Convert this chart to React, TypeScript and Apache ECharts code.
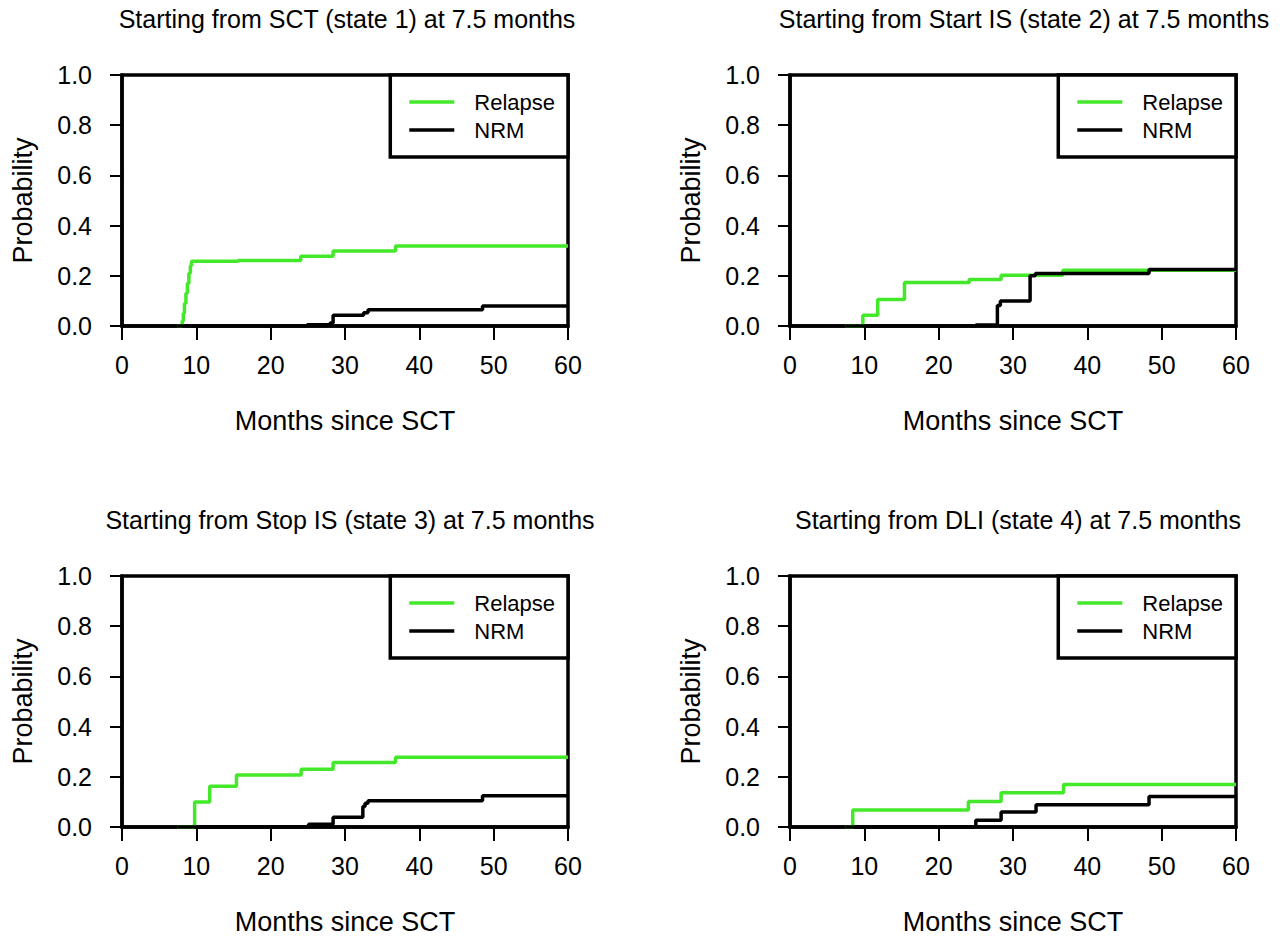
import React, { useEffect, useRef } from "react";
import * as echarts from "echarts";

const FONT = "'Liberation Sans', Arial, Helvetica, sans-serif";
const GREEN = "#44e82a";

const panelTitles = [
  "Starting from SCT (state 1) at 7.5 months",
  "Starting from Start IS (state 2) at 7.5 months",
  "Starting from Stop IS (state 3) at 7.5 months",
  "Starting from DLI (state 4) at 7.5 months",
];
const seriesNames = ["Relapse", "NRM"];
const xTicks = { min: 0, max: 60, interval: 10 };
const yTicks = { min: 0, max: 1, interval: 0.2 };
const xAxisName = "Months since SCT";
const yAxisName = "Probability";

// [months, probability] step points
const relapse1 = [
  [7.5, 0], [8.1, 0.02], [8.25, 0.05], [8.4, 0.09], [8.6, 0.13], [8.8, 0.17],
  [9.0, 0.21], [9.2, 0.24], [9.35, 0.258], [15.6, 0.261], [24.05, 0.278],
  [28.4, 0.299], [36.8, 0.319], [60, 0.319],
];
const nrm1 = [
  [7.5, 0], [24.9, 0.005], [28.0, 0.012], [28.4, 0.043], [32.5, 0.053],
  [33.1, 0.065], [48.5, 0.08], [60, 0.08],
];
const relapse2 = [
  [7.5, 0], [9.8, 0.043], [11.8, 0.106], [15.4, 0.173], [24.1, 0.185],
  [28.4, 0.202], [36.7, 0.222], [60, 0.222],
];
const nrm2 = [
  [7.5, 0], [25.0, 0.004], [27.9, 0.082], [28.3, 0.1], [32.3, 0.2],
  [33.0, 0.209], [48.3, 0.225], [60, 0.225],
];
const relapse3 = [
  [7.5, 0], [9.77, 0.1], [11.8, 0.162], [15.4, 0.207], [24.1, 0.23],
  [28.4, 0.257], [36.8, 0.278], [60, 0.278],
];
const nrm3 = [
  [7.5, 0], [25.1, 0.011], [28.4, 0.039], [32.4, 0.082], [32.7, 0.095],
  [33.1, 0.105], [48.5, 0.125], [60, 0.125],
];
const relapse4 = [
  [7.5, 0], [8.44, 0.068], [24.0, 0.102], [28.4, 0.136], [36.8, 0.169], [60, 0.169],
];
const nrm4 = [
  [7.5, 0], [25.0, 0.027], [28.4, 0.06], [33.1, 0.089], [48.3, 0.122], [60, 0.122],
];

const relapseData = [relapse1, relapse2, relapse3, relapse4];
const nrmData = [nrm1, nrm2, nrm3, nrm4];

// layout (pixels)
const W = 1280;
const H = 948;
const gridLefts = [122, 790, 122, 790];
const gridTops = [75, 75, 576, 576];
const titleCenters = [347, 1024, 350, 1018];
const GRID_W = 446;
const GRID_H = 251;

export default function App() {
  const ref = useRef<HTMLDivElement>(null);
  useEffect(() => {
    if (!ref.current) return;
    const chart = echarts.init(ref.current, null, { renderer: "svg", width: W, height: H });
    const grids: any[] = [];
    const xAxes: any[] = [];
    const yAxes: any[] = [];
    const series: any[] = [];
    const titles: any[] = [];
    const legends: any[] = [];
    for (let i = 0; i < 4; i++) {
      grids.push({
        left: gridLefts[i],
        top: gridTops[i],
        width: GRID_W,
        height: GRID_H,
        show: true,
        borderColor: "#000",
        borderWidth: 3.5,
        backgroundColor: "transparent",
        containLabel: false,
      });
      xAxes.push({
        gridIndex: i,
        type: "value",
        ...xTicks,
        axisLine: { show: true, onZero: false, lineStyle: { color: "#000", width: 3.5 } },
        axisTick: { show: true, length: 14, lineStyle: { color: "#000", width: 2 } },
        axisLabel: { fontSize: 25, color: "#000", margin: 26, fontFamily: FONT },
        splitLine: { show: false },
        name: xAxisName,
        nameLocation: "middle",
        nameGap: 81,
        nameTextStyle: { fontSize: 27, color: "#000", fontFamily: FONT },
      });
      yAxes.push({
        gridIndex: i,
        type: "value",
        ...yTicks,
        axisLine: { show: true, onZero: false, lineStyle: { color: "#000", width: 3.5 } },
        axisTick: { show: true, length: 12, lineStyle: { color: "#000", width: 2 } },
        axisLabel: {
          fontSize: 25,
          color: "#000",
          margin: 30,
          fontFamily: FONT,
          formatter: (v: number) => v.toFixed(1),
        },
        splitLine: { show: false },
        name: yAxisName,
        nameLocation: "middle",
        nameGap: 86,
        nameTextStyle: { fontSize: 27, color: "#000", fontFamily: FONT },
      });
      series.push({
        name: seriesNames[0],
        type: "line",
        xAxisIndex: i,
        yAxisIndex: i,
        data: relapseData[i],
        step: "end",
        symbol: "none",
        showSymbol: false,
        lineStyle: { color: GREEN, width: 3.5 },
        itemStyle: { color: GREEN },
        z: 3,
      });
      series.push({
        name: seriesNames[1],
        type: "line",
        xAxisIndex: i,
        yAxisIndex: i,
        data: nrmData[i],
        step: "end",
        symbol: "none",
        showSymbol: false,
        lineStyle: { color: "#000", width: 3.5 },
        itemStyle: { color: "#000" },
        z: 4,
      });
      titles.push({
        text: panelTitles[i],
        left: titleCenters[i],
        top: gridTops[i] - 69,
        textAlign: "center",
        padding: 0,
        textStyle: { fontSize: 25, fontWeight: "normal", color: "#000", fontFamily: FONT },
      });
      legends.push({
        data: seriesNames,
        orient: "vertical",
        right: W - (gridLefts[i] + GRID_W),
        top: gridTops[i],
        icon: "rect",
        itemWidth: 45,
        itemHeight: 3.5,
        itemGap: 6,
        padding: [16, 13, 16, 19],
        borderColor: "#000",
        borderWidth: 3.5,
        borderRadius: 0,
        backgroundColor: "#fff",
        selectedMode: false,
        textStyle: { fontSize: 22, color: "#000", fontFamily: FONT, padding: [0, 0, 0, 15] },
      });
    }
    chart.setOption({
      animation: false,
      backgroundColor: "#fff",
      title: titles,
      legend: legends,
      grid: grids,
      xAxis: xAxes,
      yAxis: yAxes,
      series,
    });
    return () => chart.dispose();
  }, []);
  return (
    <div
      ref={ref}
      style={{ position: "fixed", left: 0, top: 0, width: W, height: H, background: "#fff" }}
    />
  );
}
